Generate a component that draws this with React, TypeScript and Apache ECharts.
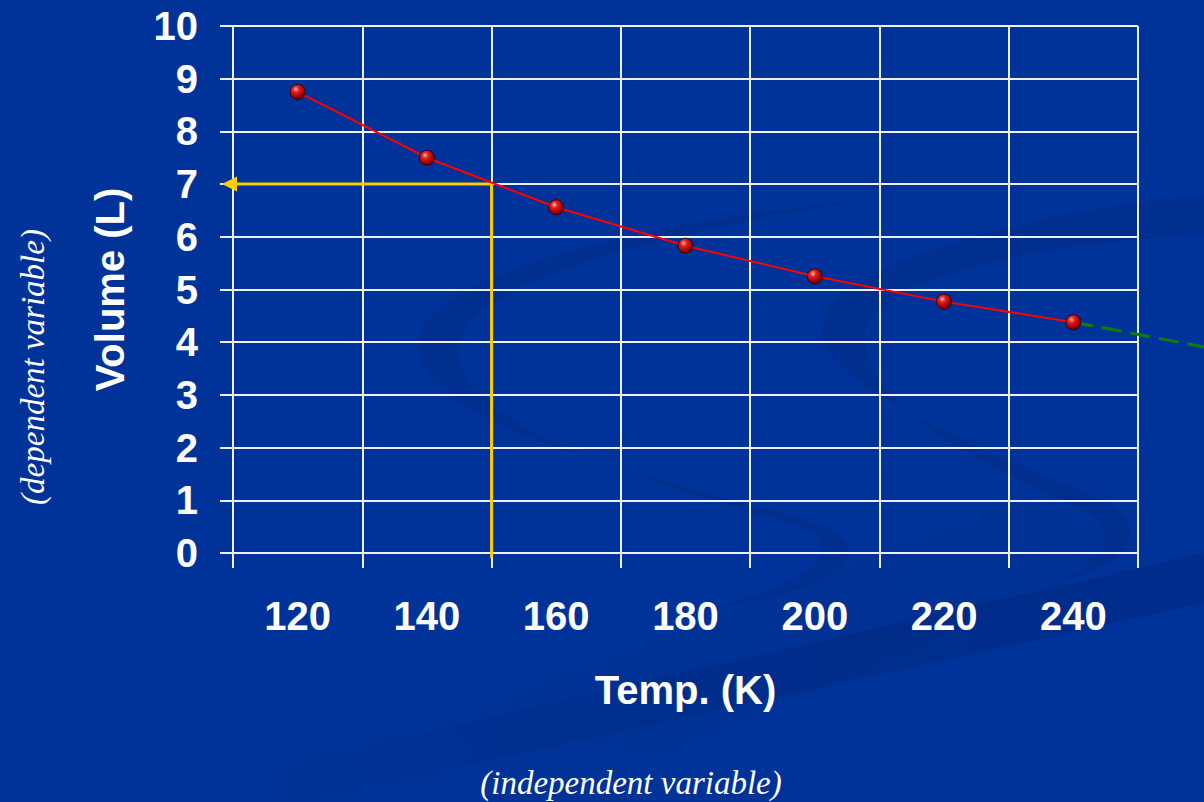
import { useEffect, useRef } from 'react';
import * as echarts from 'echarts';

// Measured gas volume at each temperature
const categories = ['120', '140', '160', '180', '200', '220', '240'];
const temperatures = [120, 140, 160, 180, 200, 220, 240];
const volumes = [8.75, 7.5, 6.56, 5.83, 5.25, 4.77, 4.38];

// Reading off the curve: volume at 150 K, traced down to the axis and across to the scale
const readTemperature = 150;
const readVolume = 7;
const readFloor = -0.095;
const readArrowTip = 109.46;

// Extrapolated trend beyond the last measurement
const trendStart = [240, 4.38];
const trendEnd = [260.2, 3.91];

// Decorative background swooshes
const swooshLeft =
  'M 880 198 C 610 225 420 280 418 345 C 416 420 620 470 790 515 C 880 540 880 580 700 612 ' +
  'C 840 575 850 540 780 520 C 610 475 455 415 458 350 C 462 285 640 235 880 198 Z';
const swooshRight =
  'M 1204 195 C 1000 215 830 270 822 325 C 815 380 960 440 1090 495 C 1150 520 1150 560 1040 590 ' +
  'C 1120 560 1120 525 1075 505 C 950 455 860 390 865 335 C 870 285 1000 245 1204 235 Z';

echarts.graphic.registerShape('swooshLeft', echarts.graphic.extendPath(swooshLeft, {}));
echarts.graphic.registerShape('swooshRight', echarts.graphic.extendPath(swooshRight, {}));

const LABEL_FONT = '"Liberation Sans", Arial, sans-serif';
const NOTE_FONT = '"Liberation Serif", "Times New Roman", serif';
const GRID_COLOR = '#eef0f6';

// Plot frame (px) and the temperature span it represents
const PLOT_LEFT = 233;
const PLOT_RIGHT = 66;
const PLOT_TOP = 26;
const PLOT_BOTTOM = 249;
const T_MIN = 110;
const T_MAX = 250;

export default function App() {
  const ref = useRef<HTMLDivElement>(null);

  useEffect(() => {
    if (!ref.current) return;
    const chart = echarts.init(ref.current, null, { renderer: 'svg' });
    const width = 1204;

    // Data layer spans the full width so marks may run past the plot frame
    const pxPerK = (width - PLOT_LEFT - PLOT_RIGHT) / (T_MAX - T_MIN);
    const fullMin = T_MIN - PLOT_LEFT / pxPerK;
    const fullMax = T_MAX + PLOT_RIGHT / pxPerK;

    const shade = 'rgba(0, 0, 40, 0.08)';
    const sphere = new echarts.graphic.RadialGradient(0.38, 0.33, 0.68, [
      { offset: 0, color: '#ffb4b4' },
      { offset: 0.3, color: '#e02424' },
      { offset: 0.75, color: '#a80000' },
      { offset: 1, color: '#5a0000' },
    ]);

    chart.setOption({
      animation: false,
      backgroundColor: '#003399',
      graphic: [
        { type: 'swooshLeft', x: 0, y: 0, z: -10, silent: true, style: { fill: shade } },
        { type: 'swooshRight', x: 0, y: 0, z: -10, silent: true, style: { fill: shade } },
        {
          type: 'polygon',
          z: -10,
          silent: true,
          shape: { points: [[120, 802], [1204, 553], [1204, 603], [300, 802]] },
          style: {
            fill: new echarts.graphic.LinearGradient(0, 0, 1, 0, [
              { offset: 0, color: 'rgba(0,0,40,0)' },
              { offset: 0.5, color: 'rgba(0,0,40,0.08)' },
              { offset: 1, color: 'rgba(0,0,40,0.13)' },
            ]),
          },
        },
        {
          type: 'polygon',
          z: -10,
          silent: true,
          shape: { points: [[230, 802], [1204, 430], [1204, 520], [560, 802]] },
          style: {
            fill: new echarts.graphic.LinearGradient(0, 1, 1, 0, [
              { offset: 0, color: 'rgba(0,0,40,0)' },
              { offset: 0.6, color: 'rgba(0,0,40,0.05)' },
              { offset: 1, color: 'rgba(0,0,40,0)' },
            ]),
          },
        },
        {
          type: 'text',
          x: 33,
          y: 367,
          rotation: Math.PI / 2,
          silent: true,
          style: {
            text: '(dependent variable)',
            fill: '#ffffff',
            font: `italic 33px ${NOTE_FONT}`,
            textAlign: 'center',
            textVerticalAlign: 'middle',
          },
        },
        {
          type: 'text',
          x: 631,
          y: 783,
          silent: true,
          style: {
            text: '(independent variable)',
            fill: '#ffffff',
            font: `italic 33px ${NOTE_FONT}`,
            textAlign: 'center',
            textVerticalAlign: 'middle',
          },
        },
      ],
      grid: [
        { left: PLOT_LEFT, right: PLOT_RIGHT, top: PLOT_TOP, bottom: PLOT_BOTTOM, outerBoundsMode: 'none' },
        { left: 0, right: 0, top: PLOT_TOP, bottom: PLOT_BOTTOM, outerBoundsMode: 'none' },
      ],
      xAxis: [
        {
          type: 'category',
          gridIndex: 0,
          data: categories,
          boundaryGap: true,
          name: 'Temp. (K)',
          nameLocation: 'middle',
          nameGap: 117,
          nameTextStyle: { color: '#ffffff', fontSize: 40, fontWeight: 'bold', fontFamily: LABEL_FONT },
          axisLine: { lineStyle: { color: GRID_COLOR, width: 2 } },
          axisTick: { show: true, length: 15, lineStyle: { color: GRID_COLOR, width: 2 } },
          axisLabel: { color: '#ffffff', fontSize: 40, fontWeight: 'bold', fontFamily: LABEL_FONT, margin: 43 },
          splitLine: { show: true, lineStyle: { color: GRID_COLOR, width: 2 } },
        },
        { type: 'value', gridIndex: 1, min: fullMin, max: fullMax, show: false },
      ],
      yAxis: [
        {
          type: 'value',
          gridIndex: 0,
          min: 0,
          max: 10,
          interval: 1,
          name: 'Volume (L)',
          nameLocation: 'middle',
          nameGap: 103,
          nameTextStyle: { color: '#ffffff', fontSize: 40, fontWeight: 'bold', fontFamily: LABEL_FONT },
          axisLine: { show: true, lineStyle: { color: GRID_COLOR, width: 2 } },
          axisTick: { show: true, length: 13, lineStyle: { color: GRID_COLOR, width: 2 } },
          axisLabel: { color: '#ffffff', fontSize: 40, fontWeight: 'bold', fontFamily: LABEL_FONT, margin: 35 },
          splitLine: { show: true, lineStyle: { color: GRID_COLOR, width: 2 } },
        },
        { type: 'value', gridIndex: 1, min: 0, max: 10, show: false },
      ],
      series: [
        {
          name: 'reading',
          type: 'line',
          xAxisIndex: 1,
          yAxisIndex: 1,
          clip: false,
          silent: true,
          symbol: 'none',
          lineStyle: { color: '#ffcc00', width: 3 },
          emphasis: { disabled: true },
          data: [
            [readTemperature, readFloor],
            [readTemperature, readVolume],
            {
              value: [readArrowTip, readVolume],
              symbol: 'triangle',
              symbolRotate: 90,
              symbolSize: [15, 15],
              itemStyle: { color: '#ffcc00' },
            },
          ],
        },
        {
          name: 'trend',
          type: 'line',
          xAxisIndex: 1,
          yAxisIndex: 1,
          data: [trendStart, trendEnd],
          clip: false,
          symbol: 'none',
          silent: true,
          lineStyle: { color: '#0a800a', width: 3, type: [20, 9] },
        },
        {
          name: 'volume',
          type: 'line',
          xAxisIndex: 1,
          yAxisIndex: 1,
          data: temperatures.map((t, i) => [t, volumes[i]]),
          symbol: 'circle',
          symbolSize: 15,
          silent: true,
          itemStyle: { color: sphere, borderColor: '#3a0000', borderWidth: 1 },
          lineStyle: { color: '#ff0000', width: 2 },
          emphasis: { disabled: true },
        },
      ],
    });

    return () => chart.dispose();
  }, []);

  return (
    <div
      ref={ref}
      style={{ position: 'fixed', left: 0, top: 0, width: 1204, height: 802 }}
    />
  );
}
